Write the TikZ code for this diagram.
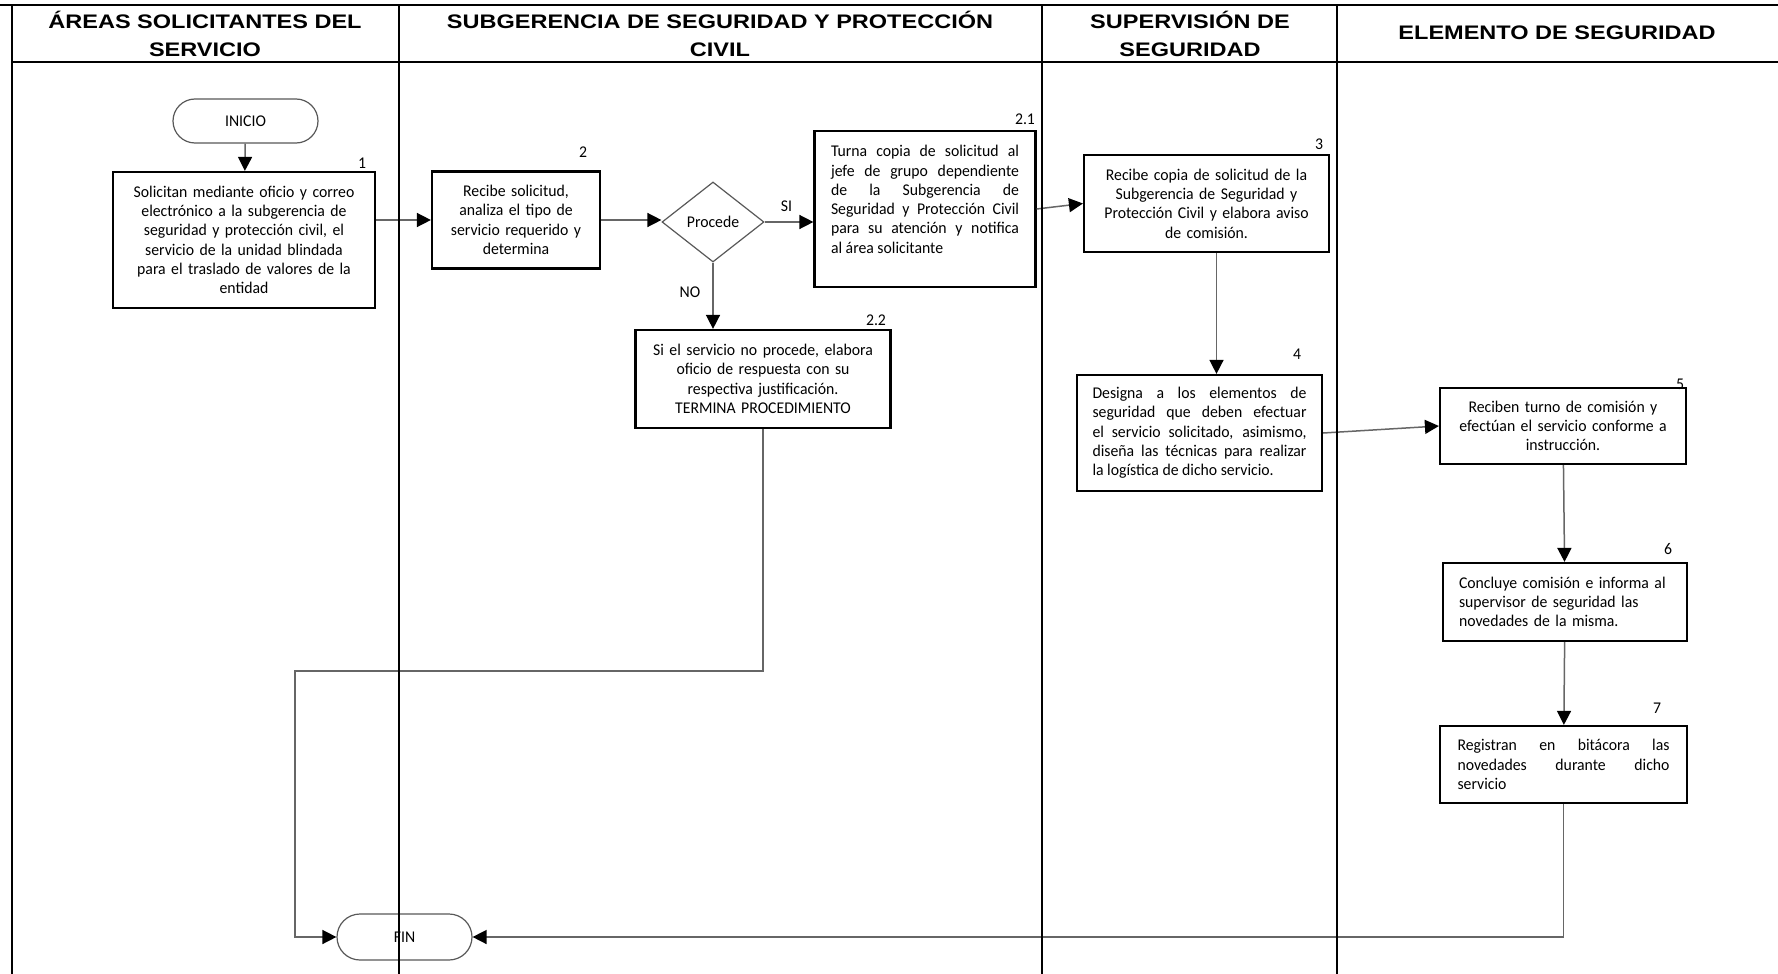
\documentclass[tikz,border=0pt]{standalone}
\usepackage{fontspec}
\setmainfont[FakeStretch=0.96]{Carlito}
\newfontfamily\hdfont[FakeStretch=1.2]{Liberation Sans}
\usetikzlibrary{shapes.geometric,shapes.misc,arrows.meta,calc}
\hyphenpenalty=10000
\exhyphenpenalty=10000
\begin{document}
\begin{tikzpicture}[x=0.5pt,y=-0.5pt,
  lane/.style={line width=1.4pt, black},
  hdr/.style={font=\hdfont\bfseries\fontsize{9.8}{13.8}\selectfont, align=center, inner sep=0pt},
  body/.style={font=\fontsize{8.2}{9.65}\selectfont},
  proc/.style={body, draw=black, line width=1.1pt, align=center, inner sep=0pt},
  term/.style={body, draw=black!65, line width=0.6pt, rounded rectangle, inner sep=0pt},
  dec/.style={body, draw=black!65, line width=0.6pt, diamond, inner sep=0pt},
  conn/.style={draw=black!60, line width=0.75pt, -{Triangle[length=7pt,width=7pt,color=black]}},
  num/.style={font=\fontsize{8.2}{9.65}\selectfont, inner sep=0pt},
  lbl/.style={font=\fontsize{8.2}{9.65}\selectfont, inner sep=0pt}
]
\useasboundingbox (0,0) rectangle (1778,974);
\fill[white] (0,0) rectangle (1778,974);

% headers
\node[hdr] (h1) at (205,34) {ÁREAS SOLICITANTES DEL\\SERVICIO};
\node[hdr] (h2) at (720,34) {SUBGERENCIA DE SEGURIDAD Y PROTECCIÓN\\CIVIL};
\node[hdr] (h3) at (1190,34) {SUPERVISIÓN DE\\SEGURIDAD};
\node[hdr] (h4) at (1557,33) {ELEMENTO DE SEGURIDAD};

% nodes
\node[term, minimum width=72.5pt, minimum height=22pt] (ini) at (245.5,121) {INICIO};
\node[proc, minimum width=131pt, minimum height=68pt, text width=124pt] (b1) at (244,240)
  {Solicitan mediante oficio y correo\\electrónico a la subgerencia de\\seguridad y protección civil, el\\servicio de la unidad blindada\\para el traslado de valores de la\\entidad};
\node[proc, minimum width=84pt, minimum height=48.5pt, text width=78pt] (b2) at (516,220)
  {Recibe solicitud,\\analiza el tipo de\\servicio requerido y\\determina};
\node[dec, minimum width=51pt, minimum height=40pt] (dec) at (713,222) {Procede};
\node[proc, minimum width=110.5pt, minimum height=78pt, text width=94pt, align=justify] (b21) at (925,209)
  {Turna copia de solicitud al\linebreak jefe de grupo dependiente\linebreak de la Subgerencia de\linebreak Seguridad y Protección Civil\linebreak para su atención y notifica\linebreak al área solicitante\par\mbox{}};
\node[proc, minimum width=127.5pt, minimum height=49pt, text width=122pt] (b22) at (763,379)
  {Si el servicio no procede, elabora\\oficio de respuesta con su\\respectiva justificación.\\TERMINA PROCEDIMIENTO};
\node[proc, minimum width=122.5pt, minimum height=48.5pt, text width=116pt] (b3) at (1206.5,203.5)
  {Recibe copia de solicitud de la\\Subgerencia de Seguridad y\\Protección Civil y elabora aviso\\de comisión.};
\node[proc, minimum width=122.5pt, minimum height=58pt, text width=107pt, align=justify] (b4) at (1199.5,433)
  {Designa a los elementos de\linebreak seguridad que deben efectuar\linebreak el servicio solicitado, asimismo,\linebreak diseña las técnicas para realizar\linebreak la logística de dicho servicio.};
\node[proc, minimum width=123pt, minimum height=38pt, text width=116pt] (b5) at (1563,426)
  {Reciben turno de comisión y\\efectúan el servicio conforme a\\instrucción.};
\node[proc, minimum width=122pt, minimum height=39pt, text width=106pt, align=left] (b6) at (1565,602)
  {Concluye comisión e informa al\\supervisor de seguridad las\\novedades de la misma.};
\node[proc, minimum width=123.5pt, minimum height=38.5pt, text width=106pt, align=justify] (b7) at (1563.5,764.5)
  {Registran en bitácora las\linebreak novedades durante dicho\linebreak servicio};
\node[term, minimum width=67.5pt, minimum height=23pt] (fin) at (404.5,937) {FIN};

% step numbers
\node[num] (n1) at (362,163) {1};
\node[num] (n2) at (583,152) {2};
\node[num] (n21) at (1025,119) {2.1};
\node[num] (n22) at (876,320) {2.2};
\node[num] (n3) at (1319,144) {3};
\node[num] (n4) at (1297,354) {4};
\node[num] (n5) at (1680,384) {5};
\node[num] (n6) at (1668,549) {6};
\node[num] (n7) at (1657,708) {7};

% connectors
\coordinate (c1) at (763,671);
\coordinate (c2) at (295,671);
\draw[conn] (ini) -- (b1);
\draw[conn] (b1.east |- b2.west) -- (b2.west);
\draw[conn] (b2.east) -- (b2.east -| dec.west);
\draw[conn] (dec.east) -- node[lbl, above=5pt, pos=0.45] (si) {SI} (dec.east -| b21.west);
\draw[conn] (dec.south) -- node[lbl, left=6pt, pos=0.45] (no) {NO} (dec.south |- b22.north);
\draw[conn] (b21.east) -- (b3.west);
\draw[conn] ([xshift=5pt]b3.south) -- ([xshift=5pt]b3.south |- b4.north);
\draw[conn] (b4.east) -- (b5.west);
\draw[conn] (b5) -- (b6);
\draw[conn] (b6) -- (b7);
\draw[conn] (b22.south) -- (c1) -- (c2) |- (fin.west);
\draw[conn] (b7.south) |- (fin.east);

% lanes (drawn over shapes)
\draw[lane] (0,5) -- (1778,5);
\draw[lane] (11,62) -- (1778,62);
\draw[lane] (12,5) -- (12,974);
\draw[lane] (399,5) -- (399,974);
\draw[lane] (1042,5) -- (1042,974);
\draw[lane] (1337,5) -- (1337,974);
\end{tikzpicture}
\end{document}
